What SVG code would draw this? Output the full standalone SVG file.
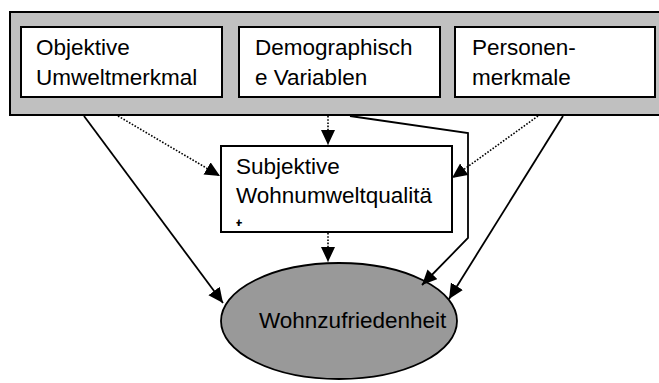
<svg xmlns="http://www.w3.org/2000/svg" width="659" height="383" viewBox="0 0 659 383">
<style>
text{font-family:"Liberation Sans",Arial,sans-serif;font-size:22.5px;fill:#000}
.box{fill:#fff;stroke:#000;stroke-width:2}
.solid{fill:none;stroke:#000;stroke-width:1.8}
.dot{fill:none;stroke:#000;stroke-width:1.6;stroke-dasharray:1.6 1.6}
</style>
<defs>
<marker id="ah" markerUnits="userSpaceOnUse" markerWidth="16" markerHeight="15" refX="15" refY="7" orient="auto">
<path d="M0,0 L15,7 L0,14 z" fill="#000"/>
</marker>
<clipPath id="subclip"><rect x="222" y="147" width="229" height="79"/></clipPath>
</defs>
<g id="group">
<rect x="10" y="12" width="660" height="103" fill="#c0c0c0" stroke="#000" stroke-width="2"/>
</g>
<g id="objektive">
<rect class="box" x="21" y="27" width="201" height="70"/>
<text x="36" y="55">Objektive</text>
<text x="36" y="85">Umweltmerkmal</text>
</g>
<g id="demographisch">
<rect class="box" x="239" y="27" width="201" height="70"/>
<text x="255" y="55">Demographisch</text>
<text x="255" y="85">e Variablen</text>
</g>
<g id="personen">
<rect class="box" x="455" y="27" width="200" height="70"/>
<text x="472" y="55">Personen-</text>
<text x="472" y="85">merkmale</text>
</g>
<g id="subjektive">
<rect class="box" x="221" y="146" width="231" height="86"/>
<g clip-path="url(#subclip)">
<text x="236" y="174">Subjektive</text>
<text x="236" y="203">Wohnumweltqualitä</text>
<text x="236" y="234">t</text>
</g>
</g>
<g id="wohnzufriedenheit">
<ellipse cx="339" cy="321" rx="118" ry="58" fill="#999" stroke="#000" stroke-width="1.8"/>
<text x="259" y="328">Wohnzufriedenheit</text>
</g>
<g id="connectors">
<line class="solid" x1="84" y1="116" x2="223" y2="303" marker-end="url(#ah)"/>
<line class="dot" x1="118" y1="116" x2="220" y2="176" marker-end="url(#ah)"/>
<line class="dot" x1="328" y1="116" x2="328" y2="145" marker-end="url(#ah)"/>
<polyline class="solid" points="350,116 468,133 468,238 422,285" marker-end="url(#ah)"/>
<line class="dot" x1="538" y1="116" x2="452" y2="178" marker-end="url(#ah)"/>
<line class="solid" x1="563" y1="116" x2="449" y2="299" marker-end="url(#ah)"/>
<line class="dot" x1="328" y1="233" x2="328" y2="262" marker-end="url(#ah)"/>
</g>
</svg>
